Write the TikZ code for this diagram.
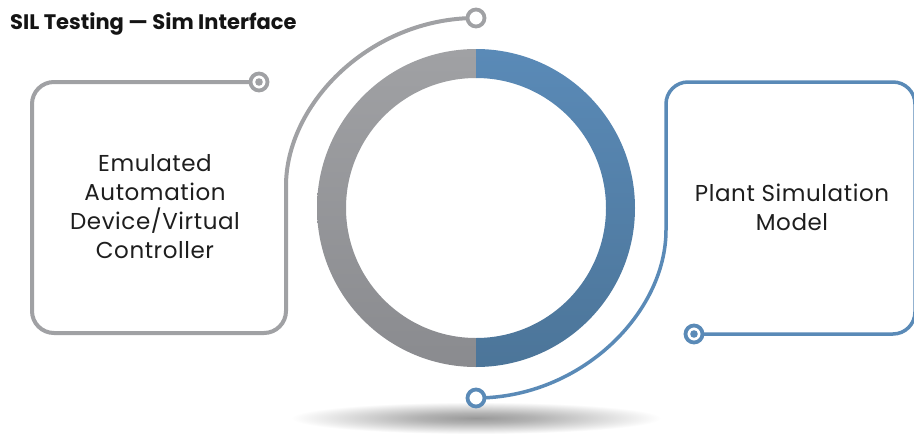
\documentclass[tikz,border=0pt]{standalone}
\usepackage{fontspec}
\setmainfont{Poppins}
\newfontfamily\boxfont[LetterSpace=2.5]{Poppins}
\usetikzlibrary{calc}
\definecolor{lgray}{HTML}{A0A1A4}
\definecolor{dgray}{HTML}{8A8B8F}
\definecolor{lblue}{HTML}{5A8AB7}
\definecolor{dblue}{HTML}{4C7599}
\definecolor{txt}{HTML}{1E1E1E}
\pgfdeclareradialshading{floorshadow}{\pgfpointorigin}{color(0bp)=(black!40); color(8bp)=(black!30); color(25bp)=(white); color(50bp)=(white)}
\begin{document}
\begin{tikzpicture}[x=1pt,y=1pt,
  grayline/.style={draw=lgray, line width=4pt},
  blueline/.style={draw=lblue, line width=3.5pt},
  openend/.style={circle, fill=white, line width=3.8pt, minimum size=17pt, inner sep=0pt},
  bullseye/.style={circle, fill=white, line width=3.8pt, minimum size=17pt, inner sep=0pt,
     path picture={\fill[#1] (path picture bounding box.center) circle (3.8pt);}},
  boxtext/.style={font=\boxfont\fontsize{23}{29}\selectfont, text=txt, align=center}]

\useasboundingbox (0,0) rectangle (914,-434);
\fill[white] (0,0) rectangle (914,-434);

\coordinate (C) at (476,-208);
\coordinate (gbull) at (259,-82);
\coordinate (gtop) at (476,-18);
\coordinate (bbull) at (694,-334);
\coordinate (bbot) at (476,-398);

% floor shadow
\shade[shading=floorshadow] (476,-418) ellipse [x radius=185, y radius=16];

% ring halves
\shade[top color=lgray, middle color=lgray, bottom color=dgray]
  ($(C)+(90:159)$) arc[start angle=90,end angle=270,radius=159]
  -- ($(C)+(270:130)$) arc[start angle=270,end angle=90,radius=130] -- cycle;
\shade[top color=lblue, middle color=lblue, bottom color=dblue]
  ($(C)+(90:159)$) arc[start angle=90,end angle=-90,radius=159]
  -- ($(C)+(-90:130)$) arc[start angle=-90,end angle=90,radius=130] -- cycle;

% connectors / frames
\draw[grayline, rounded corners=22pt] (gbull) -- (32,-82) -- (32,-333) -- (286,-333) -- (286,-208)
   arc[start angle=180,end angle=90,radius=190];
\draw[blueline, rounded corners=22pt] (bbull) -- (915,-334) -- (915,-82) -- (666,-82) -- (666,-208)
   arc[start angle=0,end angle=-90,radius=190];

% end markers
\node[bullseye=lgray, draw=lgray] (gbullN) at (gbull) {};
\node[openend, draw=lgray] (gtopN) at (gtop) {};
\node[bullseye=lblue, draw=lblue] (bbullN) at (bbull) {};
\node[openend, draw=lblue] (bbotN) at (bbot) {};

% texts
\node[anchor=base west, inner sep=0pt, font=\bfseries\fontsize{21}{24}\selectfont, text=black!92] (title) at (10,-29) {SIL Testing — Sim Interface};
\node[boxtext] (ctrl) at (155,-207) {Emulated\\Automation\\Device/Virtual\\Controller};
\node[boxtext] (plant) at (792,-207) {Plant Simulation\\Model};
\end{tikzpicture}
\end{document}
